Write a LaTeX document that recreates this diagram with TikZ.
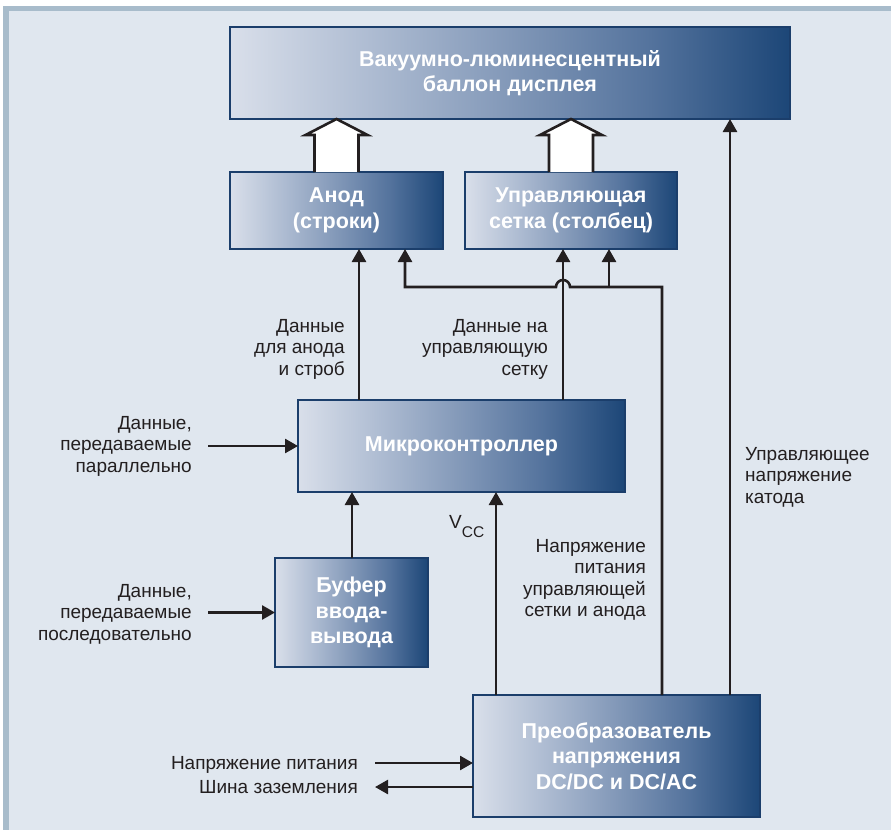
\documentclass[tikz,border=0pt]{standalone}
\usepackage{fontspec}
\setmainfont{Liberation Sans}
\usetikzlibrary{arrows.meta,calc}
\definecolor{bgc}{HTML}{E0E7EF}
\definecolor{framec}{HTML}{A8BCCB}
\definecolor{bord}{HTML}{1B3E6B}
\definecolor{ink}{HTML}{231F20}
\definecolor{shA}{HTML}{D9DFEA}
\definecolor{shB}{HTML}{AEBCD2}
\definecolor{shC}{HTML}{8298B8}
\definecolor{shD}{HTML}{54739D}
\definecolor{shE}{HTML}{1C4677}
\pgfdeclarehorizontalshading{boxsh}{100bp}{color(0bp)=(shA); color(25bp)=(shA); color(37.5bp)=(shB); color(50bp)=(shC); color(62.5bp)=(shD); color(75bp)=(shE); color(100bp)=(shE)}
\tikzset{
  box/.style={draw=bord, line width=2pt, shade, shading=boxsh, inner sep=0pt, outer sep=0pt,
    text=white, font=\fontsize{21.5}{25.5}\selectfont\bfseries, align=center},
  lbl/.style={text=ink, font=\fontsize{19}{21.5}\selectfont, inner sep=0pt},
  arr/.style={draw=ink, line width=2.6pt, -{Triangle[length=13pt,width=14pt]}},
  hollow/.style={draw=ink, line width=2.6pt, fill=white, line join=miter}
}
\begin{document}
\begin{tikzpicture}[x=1pt,y=-1pt]
\useasboundingbox (0,0) rectangle (891,830);
\fill[white] (0,0) rectangle (891,830);
\fill[framec] (3,6) rectangle (891,830);
\fill[bgc] (9,11) rectangle (891,830);

% boxes
\node[box, minimum width=560pt, minimum height=92pt] (top) at (510,73) {Вакуумно-люминесцентный\\баллон дисплея};
\node[box, minimum width=213pt, minimum height=77pt] (anode) at (336.5,210.5) {Анод\\(строки)};
\node[box, minimum width=212pt, minimum height=77pt] (grid) at (571,210.5) {Управляющая\\сетка (столбец)};
\node[box, minimum width=327pt, minimum height=92pt] (micro) at (461.5,446) {Микроконтроллер};
\node[box, minimum width=153pt, minimum height=109pt] (buf) at (351.5,612.5) {Буфер\\ввода-\\вывода};
\node[box, minimum width=287pt, minimum height=122pt] (conv) at (616.5,756) {Преобразователь\\напряжения\\DC/DC и DC/AC};

% hollow arrows
\coordinate (ha) at (anode.north);
\coordinate (hg) at (grid.north);
\draw[hollow] ($(ha)+(-22,0)$) -- ($(ha)+(-22,-37)$) -- ($(ha)+(-31,-37)$) -- (ha |- top.south) -- ($(ha)+(31,-37)$) -- ($(ha)+(22,-37)$) -- ($(ha)+(22,0)$);
\draw[hollow] ($(hg)+(-22,0)$) -- ($(hg)+(-22,-37)$) -- ($(hg)+(-31,-37)$) -- (hg |- top.south) -- ($(hg)+(31,-37)$) -- ($(hg)+(22,-37)$) -- ($(hg)+(22,0)$);

% x positions of vertical connectors
\coordinate (xa1) at (359,0);
\coordinate (xb) at (405,0);
\coordinate (xg1) at (563,0);
\coordinate (xg2) at (609,0);
\coordinate (xr) at (662,0);
\coordinate (xc) at (730,0);
\coordinate (xv) at (496,0);
\coordinate (xbuf) at (352,0);
\coordinate (busy) at (0,287);

% connectors
\draw[arr] (micro.north -| xa1) -- (anode.south -| xa1);
\draw[arr] (micro.north -| xg1) -- (grid.south -| xg1);
\draw[arr] (conv.north -| xr) -- (xr |- busy) -- ($(xg1 |- busy)+(7,0)$) arc[start angle=0,end angle=-180,radius=7] -- (xb |- busy) -- (anode.south -| xb);
\draw[arr] (xg2 |- busy) -- (grid.south -| xg2);
\draw[arr] (conv.north -| xc) -- (top.south -| xc);
\draw[arr] (conv.north -| xv) -- (micro.south -| xv);
\draw[arr] (buf.north -| xbuf) -- (micro.south -| xbuf);

\coordinate (pin) at (208,446);
\coordinate (sin) at (208,612.5);
\coordinate (pwr) at (375,763);
\coordinate (gnd) at (375,787);
\draw[arr] (pin) -- (micro.west);
\draw[arr] (sin) -- (buf.west);
\draw[arr] (pwr) -- (pwr -| conv.west);
\draw[arr] (gnd -| conv.west) -- (gnd);

% labels
\node[lbl, anchor=east, align=right] (l1) at (345,349) {Данные\\для анода\\и строб};
\node[lbl, anchor=east, align=right] (l2) at (548,349) {Данные на\\управляющую\\сетку};
\node[lbl, anchor=east, align=right] (l3) at (192,446) {Данные,\\передаваемые\\параллельно};
\node[lbl, anchor=east, align=right] (l4) at (192,614) {Данные,\\передаваемые\\последовательно};
\node[lbl, anchor=base west] (vcc) at (449,528) {V\raisebox{-9pt}{\fontsize{15.5}{15.5}\selectfont CC}};
\node[lbl, anchor=east, align=right] (l5) at (646,580) {Напряжение\\питания\\управляющей\\сетки и анода};
\node[lbl, anchor=west, align=left] (l6) at (745,477) {Управляющее\\напряжение\\катода};
\node[lbl, anchor=base east] (l7) at (358,769) {Напряжение питания};
\node[lbl, anchor=base east] (l8) at (358,793) {Шина заземления};
\end{tikzpicture}
\end{document}
